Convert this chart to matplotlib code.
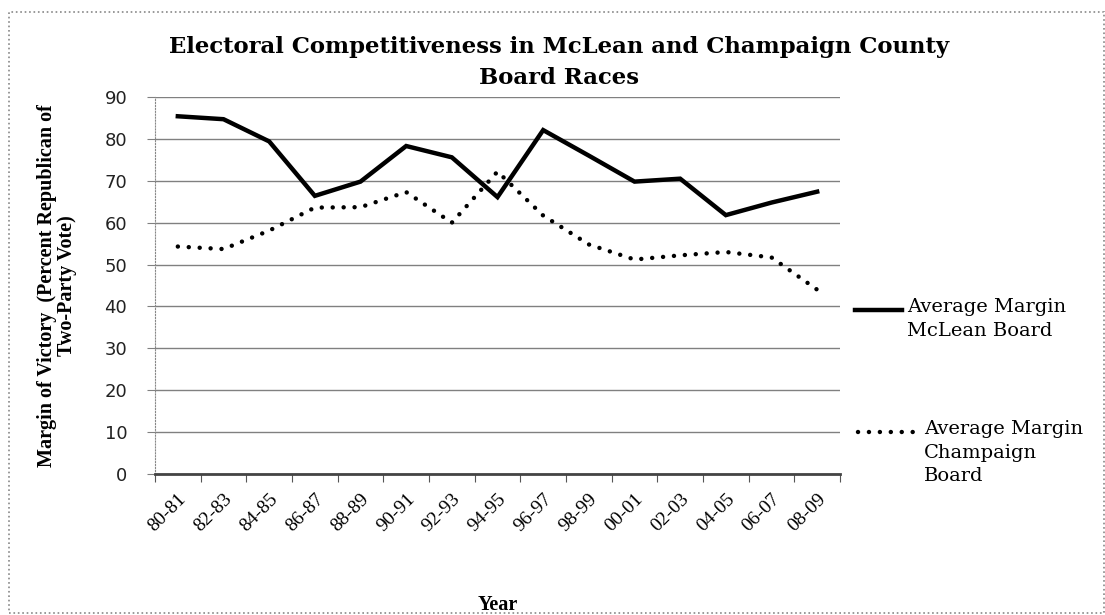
import numpy as np
import matplotlib
matplotlib.use('Agg')
import matplotlib.pyplot as plt
from matplotlib.lines import Line2D
from matplotlib.patches import Rectangle

years = ['80-81', '82-83', '84-85', '86-87', '88-89', '90-91', '92-93', '94-95',
         '96-97', '98-99', '00-01', '02-03', '04-05', '06-07', '08-09']
mclean = [85.4, 84.7, 79.4, 66.4, 69.8, 78.3, 75.6, 66.1, 82.1, 76.0, 69.8, 70.5, 61.8, 64.8, 67.4]
champaign = [54.3, 53.7, 58.1, 63.6, 63.7, 67.3, 60.0, 72.2, 61.7, 54.8, 51.2, 52.2, 53.0, 51.7, 44.0]

W, H = 1105, 615
fig = plt.figure(figsize=(W/100, H/100), dpi=100)
ax = fig.add_axes([155/W, 1-474/H, 685/W, 377/H])

x = np.arange(len(years))
ax.plot(x, mclean, color='black', lw=3.2, solid_joinstyle='miter')
ax.plot(x, champaign, color='black', lw=3.2, linestyle=(0, (0.01, 2.45)),
        dash_capstyle='round')

ax.set_xlim(-0.5, len(years)-0.5)
ax.set_ylim(0, 90)
ax.set_yticks(np.arange(0, 91, 10))
ax.yaxis.grid(True, color='#808080', lw=1.0)
ax.set_axisbelow(True)
ax.set_xticks(np.arange(-0.5, len(years), 1))
ax.set_xticklabels([])
ax.set_xticks(x, minor=True)
ax.set_xticklabels(years, minor=True, rotation=45, ha='right',
                   rotation_mode='anchor', family='Liberation Serif', fontsize=14)
ax.tick_params(axis='x', which='minor', length=0, pad=12)
ax.tick_params(axis='x', which='major', length=6, color='#555555', direction='out')
ax.tick_params(axis='y', length=6, color='#808080', labelsize=13, pad=14,
               labelcolor='#222222')
for s in ['top', 'right']:
    ax.spines[s].set_visible(False)
ax.spines['left'].set_color('#888888')
ax.spines['left'].set_linestyle(':')
ax.spines['bottom'].set_color('#444444')
ax.spines['bottom'].set_linewidth(2)

ax.set_ylabel('Margin of Victory  (Percent Republican of\nTwo-Party Vote)',
              family='Liberation Serif', fontweight='bold', fontsize=14.5,
              labelpad=20, linespacing=1.0)
ax.set_xlabel('Year', family='Liberation Serif', fontweight='bold', fontsize=14.5,
              labelpad=43)
fig.text(559/W, 1-36/H, 'Electoral Competitiveness in McLean and Champaign County\nBoard Races',
         ha='center', va='top', family='DejaVu Serif', fontweight='bold',
         fontsize=16.4, linespacing=1.5)

# legend
fig.add_artist(Line2D([855/W, 902/W], [1-310/H, 1-310/H], color='black', lw=3.2))
fig.text(907/W, 1-298/H, 'Average Margin\nMcLean Board', family='DejaVu Serif',
         fontsize=14, va='top', ha='left', linespacing=1.4)
fig.add_artist(Line2D([858/W, 916/W], [1-432/H, 1-432/H], color='black', lw=3.2,
                      linestyle=(0, (0.01, 2.45)), dash_capstyle='round'))
fig.text(924/W, 1-420/H, 'Average Margin\nChampaign\nBoard', family='DejaVu Serif',
         fontsize=14, va='top', ha='left', linespacing=1.4)

fig.add_artist(Rectangle((9/W, 1-613/H), 1095/W, 601/H, fill=False,
                         edgecolor='#888888', lw=1.2, linestyle=':'))

fig.savefig('out.png', dpi=100)
